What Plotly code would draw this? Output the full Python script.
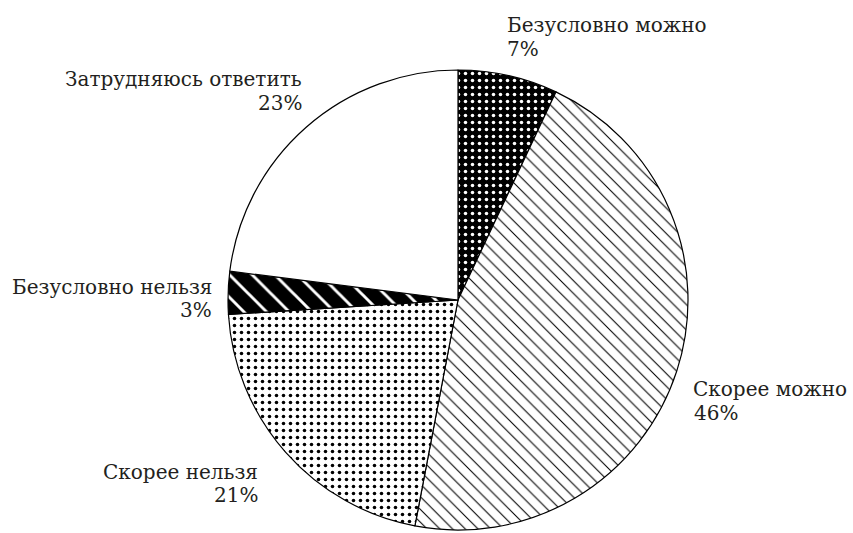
import plotly.graph_objects as go

labels = ["Безусловно можно", "Скорее можно", "Скорее нельзя", "Безусловно нельзя", "Затрудняюсь ответить"]
values = [7, 46, 21, 3, 23]

shapes = [".", "\\", ".", "\\", ""]
bgcolors = ["black", "white", "white", "black", "white"]
fgcolors = ["white", "black", "black", "white", "black"]
psizes = [7, 9, 7, 16, 8]
solidity = [0.2, 0.12, 0.2, 0.18, 0.1]

W, H = 853, 533

fig = go.Figure(go.Pie(
    labels=labels, values=values, sort=False, direction="clockwise", rotation=0,
    textinfo="none", hoverinfo="label+percent", showlegend=False,
    marker=dict(
        colors=bgcolors,
        line=dict(color="black", width=1.2),
        pattern=dict(shape=shapes, bgcolor=bgcolors, fgcolor=fgcolors,
                     size=psizes, solidity=solidity, fillmode="replace"),
    ),
    domain=dict(x=[228/W, 688/W], y=[3/H, 463/H]),
))

# label placement (pixels from top-left): name x/anchor, percent x/anchor, name top, percent top
pos = [
    (505, "left", 505, "left", 11, 35),
    (849, "right", 692, "left", 375, 399),
    (260, "right", 260, "right", 458, 481),
    (214, "right", 214, "right", 273, 296),
    (304, "right", 304, "right", 65, 89),
]
font = dict(family="DejaVu Serif", size=20, color="#231f20")
annotations = []
for (lab, val, (nx, na, vx, va, ny, vy)) in zip(labels, values, pos):
    annotations.append(dict(
        text=lab, x=nx/W, y=1 - ny/H, xref="paper", yref="paper",
        xanchor=na, yanchor="top", align=na, showarrow=False, font=font))
    annotations.append(dict(
        text=f"{val}%", x=vx/W, y=1 - vy/H, xref="paper", yref="paper",
        xanchor=va, yanchor="top", align=va, showarrow=False, font=font))

fig.update_layout(
    width=W, height=H, margin=dict(l=0, r=0, t=0, b=0),
    paper_bgcolor="white", plot_bgcolor="white",
    annotations=annotations,
)
fig.write_html("out.html", config={"displayModeBar": False},
               post_script="document.body.style.margin='0';")
